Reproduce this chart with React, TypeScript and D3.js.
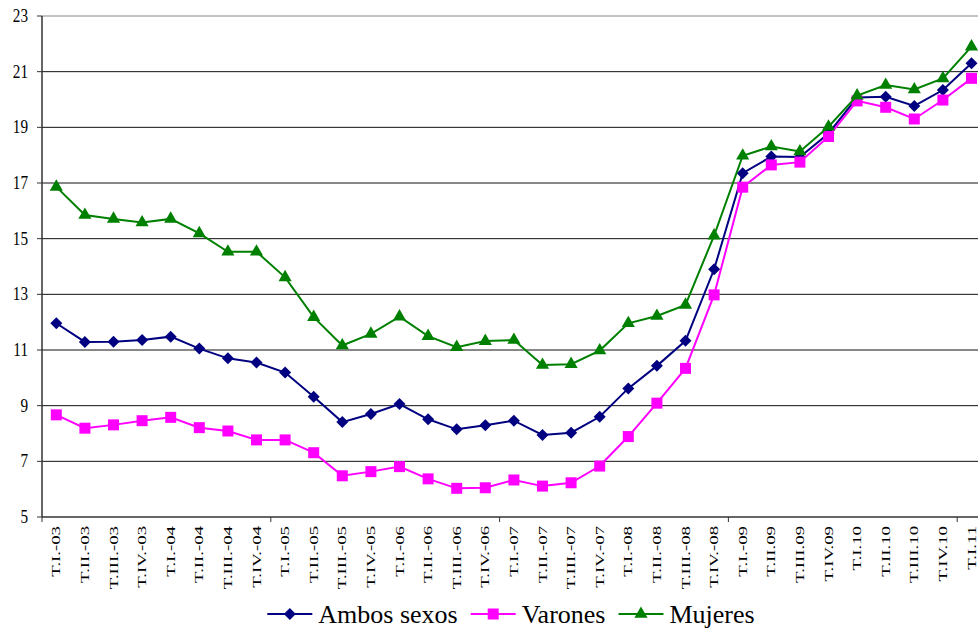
import { useEffect, useRef } from "react";
import * as d3 from "d3";

const categories = [
  "T.I.-03", "T.II.-03", "T.III.-03", "T.IV.-03",
  "T.I.-04", "T.II.-04", "T.III.-04", "T.IV.-04",
  "T.I.-05", "T.II.-05", "T.III.-05", "T.IV.-05",
  "T.I.-06", "T.II.-06", "T.III.-06", "T.IV.-06",
  "T.I.-07", "T.II.-07", "T.III.-07", "T.IV.-07",
  "T.I.-08", "T.II.-08", "T.III.-08", "T.IV.-08",
  "T.I.-09", "T.II.09", "T.III.09", "T.IV.09",
  "T.I.10", "T.II.10", "T.III.10", "T.IV.10",
  "T.I.11",
];

const ambos = [
  11.96, 11.29, 11.3, 11.36, 11.48, 11.05, 10.7, 10.55,
  10.19, 9.32, 8.41, 8.7, 9.06, 8.51, 8.15, 8.3,
  8.46, 7.95, 8.03, 8.6, 9.62, 10.43, 11.33, 13.9,
  17.35, 17.95, 17.93, 18.78, 20.07, 20.1, 19.77, 20.34,
  21.3,
];

const varones = [
  8.67, 8.19, 8.31, 8.46, 8.58, 8.21, 8.09, 7.77,
  7.77, 7.31, 6.48, 6.63, 6.81, 6.37, 6.03, 6.05,
  6.33, 6.11, 6.23, 6.83, 7.89, 9.09, 10.34, 12.98,
  16.85, 17.65, 17.75, 18.67, 19.95, 19.72, 19.3, 19.98,
  20.76,
];

const mujeres = [
  16.86, 15.85, 15.71, 15.58, 15.71, 15.19, 14.53, 14.53,
  13.61, 12.18, 11.16, 11.58, 12.2, 11.5, 11.1, 11.32,
  11.36, 10.46, 10.49, 10.98, 11.96, 12.22, 12.62, 15.11,
  17.98, 18.31, 18.13, 19.02, 20.14, 20.52, 20.36, 20.76,
  21.9,
];

const yTicks = [5, 7, 9, 11, 13, 15, 17, 19, 21, 23];

const series = [
  { name: "Ambos sexos", values: ambos, color: "#000080", symbol: d3.symbolSquare, size: 72, rotate: 45 },
  { name: "Varones", values: varones, color: "#FF00FF", symbol: d3.symbolSquare, size: 121, rotate: 0 },
  { name: "Mujeres", values: mujeres, color: "#008000", symbol: d3.symbolTriangle, size: 75, rotate: 0 },
];

const W = 978;
const H = 631;
const FONT = '"Liberation Serif", "Times New Roman", serif';

const App = () => {
  const ref = useRef<SVGSVGElement>(null);

  useEffect(() => {
    if (!ref.current) return;
    const svg = d3.select(ref.current);
    svg.selectAll("*").remove();

    const left = 42;
    const top = 16;
    const bottom = 517;
    const step = 28.6;

    const x = d3
      .scaleBand<string>()
      .domain(categories)
      .range([left, left + categories.length * step])
      .padding(0);
    const y = d3.scaleLinear().domain([5, 23]).range([bottom, top]);
    const cx = (i: number) => (x(categories[i]) as number) + x.bandwidth() / 2;

    // gridlines
    svg
      .append("g")
      .selectAll("line")
      .data(yTicks.slice(1))
      .join("line")
      .attr("x1", left)
      .attr("x2", W)
      .attr("y1", (d) => y(d))
      .attr("y2", (d) => y(d))
      .attr("stroke", (d) => (d === 23 ? "#888" : "#111"))
      .attr("stroke-width", 1);

    // y axis
    svg
      .append("line")
      .attr("x1", left)
      .attr("x2", left)
      .attr("y1", top)
      .attr("y2", bottom)
      .attr("stroke", "#333")
      .attr("stroke-width", 1.5);

    svg
      .append("g")
      .selectAll("line")
      .data(yTicks)
      .join("line")
      .attr("x1", left - 5)
      .attr("x2", left)
      .attr("y1", (d) => y(d))
      .attr("y2", (d) => y(d))
      .attr("stroke", "#333");

    svg
      .append("g")
      .selectAll("text")
      .data(yTicks)
      .join("text")
      .attr("transform", (d) => `translate(28,${y(d) + 6}) scale(0.8,1)`)
      .attr("text-anchor", "end")
      .style("font-family", FONT)
      .attr("font-size", 19)
      .text((d) => d);

    // x axis
    svg
      .append("line")
      .attr("x1", left)
      .attr("x2", W)
      .attr("y1", bottom)
      .attr("y2", bottom)
      .attr("stroke", "#333")
      .attr("stroke-width", 1.5);

    svg
      .append("g")
      .selectAll("line")
      .data(categories.filter((_, i) => i % 8 === 0))
      .join("line")
      .attr("x1", (d) => x(d) as number)
      .attr("x2", (d) => x(d) as number)
      .attr("y1", bottom)
      .attr("y2", bottom + 5)
      .attr("stroke", "#333");

    svg
      .append("g")
      .selectAll("text")
      .data(categories)
      .join("text")
      .attr(
        "transform",
        (_, i) => `translate(${cx(i) + 4},${bottom + 9}) rotate(-90) scale(1.25,0.8)`,
      )
      .attr("text-anchor", "end")
      .style("font-family", FONT)
      .attr("font-size", 15)
      .text((d) => d);

    // series
    const line = d3
      .line<number>()
      .x((_, i) => cx(i))
      .y((d) => y(d));

    series.forEach((s) => {
      const g = svg.append("g");
      g.append("path")
        .attr("d", line(s.values))
        .attr("fill", "none")
        .attr("stroke", s.color)
        .attr("stroke-width", 2);
      g.selectAll("path.m")
        .data(s.values)
        .join("path")
        .attr("class", "m")
        .attr("d", d3.symbol().type(s.symbol).size(s.size)())
        .attr("transform", (d, i) => `translate(${cx(i)},${y(d)}) rotate(${s.rotate})`)
        .attr("fill", s.color);
    });

    // legend
    const legend = svg.append("g");
    const items = series.map((s) => {
      const g = legend.append("g");
      g.append("line")
        .attr("x1", 0)
        .attr("x2", 45)
        .attr("y1", 0)
        .attr("y2", 0)
        .attr("stroke", s.color)
        .attr("stroke-width", 2);
      g.append("path")
        .attr("d", d3.symbol().type(s.symbol).size(s.size)())
        .attr("transform", `translate(22.5,0) rotate(${s.rotate})`)
        .attr("fill", s.color);
      const t = g
        .append("text")
        .attr("x", 51)
        .attr("y", 9)
        .style("font-family", FONT)
        .attr("font-size", 26)
        .text(s.name);
      const w = 51 + (t.node() as SVGTextElement).getComputedTextLength();
      return { g, w };
    });
    const gap = 13;
    const total = d3.sum(items, (d) => d.w) + gap * (items.length - 1);
    let pos = 511 - total / 2;
    items.forEach((it) => {
      it.g.attr("transform", `translate(${pos},614)`);
      pos += it.w + gap;
    });
  }, []);

  return (
    <svg
      ref={ref}
      width={W}
      height={H}
      style={{ position: "absolute", left: 0, top: 0, background: "#fff" }}
    />
  );
};

export default App;
